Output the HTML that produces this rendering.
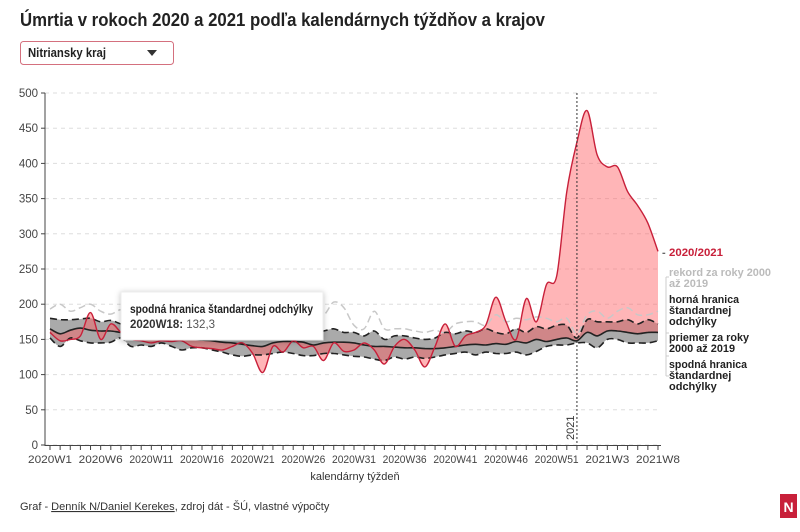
<!DOCTYPE html>
<html><head><meta charset="utf-8"><style>
body{margin:0;background:#fff;font-family:"Liberation Sans",sans-serif;}
svg text{font-family:"Liberation Sans",sans-serif;}
</style></head><body>
<svg id="c" width="800" height="527" viewBox="0 0 800 527" xmlns="http://www.w3.org/2000/svg">
<text x="20" y="26" font-size="18" font-weight="bold" fill="#222" textLength="525" lengthAdjust="spacingAndGlyphs">Úmrtia v rokoch 2020 a 2021 podľa kalendárnych týždňov a krajov</text>
<g>
<rect x="20.5" y="41.5" width="153" height="23" rx="3" fill="#fff" stroke="#d4707e"/>
<text x="28" y="57" font-size="12.5" font-weight="bold" fill="#222" textLength="78" lengthAdjust="spacingAndGlyphs">Nitriansky kraj</text>
<path d="M147 50 L157 50 L152 56 Z" fill="#333"/>
</g>
<g id="grid"></g><g id="plot"></g><g id="axes"></g>
<g>
<rect x="121" y="292" width="202" height="48" fill="#fff" stroke="#eee" style="filter:drop-shadow(0 1px 3px rgba(0,0,0,.25))"/>
<text x="130" y="313" font-size="11.5" font-weight="bold" fill="#222" textLength="183" lengthAdjust="spacingAndGlyphs">spodná hranica štandardnej odchýlky</text>
<text x="130" y="328" font-size="11.5" fill="#555"><tspan font-weight="bold" fill="#333">2020W18:</tspan> 132,3</text>
</g>
<g font-size="11" font-weight="bold">
<text x="662" y="256" fill="#666">-</text>
<text x="669" y="256" fill="#c8203a" textLength="54" lengthAdjust="spacingAndGlyphs">2020/2021</text>
<text x="669" y="276" fill="#bbb" textLength="102" lengthAdjust="spacingAndGlyphs">rekord za roky 2000</text>
<text x="669" y="287" fill="#bbb">až 2019</text>
<path d="M666 277 V356 M666 277 h3 M666 356 h3" stroke="#ccc" fill="none"/>
<text x="669" y="303" fill="#222" textLength="70" lengthAdjust="spacingAndGlyphs">horná hranica</text>
<text x="669" y="314" fill="#222">štandardnej</text>
<text x="669" y="325" fill="#222">odchýlky</text>
<path d="M666 333 V376 M666 333 h3 M666 376 h3" stroke="#ccc" fill="none"/>
<text x="669" y="341" fill="#222" textLength="80" lengthAdjust="spacingAndGlyphs">priemer za roky</text>
<text x="669" y="352" fill="#222" textLength="66" lengthAdjust="spacingAndGlyphs">2000 až 2019</text>
<text x="669" y="368" fill="#222" textLength="78" lengthAdjust="spacingAndGlyphs">spodná hranica</text>
<text x="669" y="379" fill="#222">štandardnej</text>
<text x="669" y="390" fill="#222">odchýlky</text>
</g>
<text x="355" y="480" font-size="11" fill="#333" text-anchor="middle">kalendárny týždeň</text>
<text x="20" y="510" font-size="11" fill="#333">Graf - <tspan text-decoration="underline">Denník N/Daniel Kerekes</tspan>, zdroj dát - ŠÚ, vlastné výpočty</text>
<g><rect x="780" y="494" width="17" height="24" fill="#c8203a"/><text x="788.5" y="512" font-size="14" font-weight="bold" fill="#fff" text-anchor="middle">N</text></g>
</svg>
<script>
const red=[160,148,150,155,188,150,172,160,150,148, 145,148,147,148,140,138,137,135,140,145, 130,103,140,132,148,138,140,120,145,133, 135,145,135,115,140,150,135,111,140,172, 140,155,160,170,210,175,150,208,175,228, 240,360,430, 475,412,395,395,360,340,315,275];
const mean=[165,158,163,166,163,162,162,160,161,162, 158,155,152,150,150,149,148,146,145,143, 141,140,145,147,147,146,142,145,146,146, 145,142,140,140,139,138,138,137,137,138, 140,142,143,142,144,143,147,145,150,147, 150,152,148, 160,155,162,162,160,158,160,160];
const upper=[180,178,178,179,180,175,177,172,170,165, 165,163,162,160,160,158,158,157,155,152, 150,150,152,155,160,158,160,162,165,160, 160,155,162,150,155,155,152,150,152,160, 158,162,160,165,160,158,165,160,168,165, 170,170,152, 178,175,175,175,178,172,178,172];
const lower=[152,140,152,148,145,145,146,152,140,142, 140,145,140,135,138,138,135,132,128,126, 128,128,130,132,130,127,127,130,130,128, 126,125,122,120,125,122,125,123,125,128, 130,132,128,132,130,130,132,128,133,140, 142,142,145, 145,138,150,150,145,145,145,148];
const record=[193,200,190,195,200,190,186,192,185,190, 188,185,190,188,180,178,182,185,180,183, 180,178,185,190,188,190,195,185,203,195, 170,165,190,165,165,165,162,160,163,160, 172,175,175,170,185,175,180,178,182,180, 175,180,158, 185,190,180,190,195,185,185,190];
const yTicks=[0,50,100,150,200,250,300,350,400,450,500];
const weeks=[];for(let i=1;i<=53;i++)weeks.push('2020W'+i);for(let i=1;i<=8;i++)weeks.push('2021W'+i);
const NS='http://www.w3.org/2000/svg';
const X=i=>50+i*(608/(weeks.length-1));
const Y=v=>445-v*0.704;
function el(t,a,p){const e=document.createElementNS(NS,t);for(const k in a)e.setAttribute(k,a[k]);p.appendChild(e);return e;}
function pts(arr){return arr.map((v,i)=>[X(i),Y(v)]);}
function spline(p,move){let d=(move?'M':'L')+p[0][0].toFixed(1)+','+p[0][1].toFixed(1);
for(let i=0;i<p.length-1;i++){const p0=p[i-1]||p[i],p1=p[i],p2=p[i+1],p3=p[i+2]||p2;
const c1=[p1[0]+(p2[0]-p0[0])/6,p1[1]+(p2[1]-p0[1])/6],c2=[p2[0]-(p3[0]-p1[0])/6,p2[1]-(p3[1]-p1[1])/6];
d+='C'+c1.map(n=>n.toFixed(1))+' '+c2.map(n=>n.toFixed(1))+' '+p2.map(n=>n.toFixed(1));}return d;}
function area(a,b){const pa=pts(a),pb=pts(b).reverse();return spline(pa,true)+spline(pb,false)+'Z';}
const grid=document.getElementById('grid'),plot=document.getElementById('plot'),axes=document.getElementById('axes');
yTicks.forEach(t=>{
const g=el('line',{x1:45,x2:660,y1:Y(t),y2:Y(t),stroke:'#ddd','stroke-dasharray':'4,4'},grid);


const tk=el('line',{x1:41,x2:45,y1:Y(t),y2:Y(t),stroke:'#444'},axes);
const lb=el('text',{x:38,y:Y(t)+4,'font-size':11.5,fill:'#444','text-anchor':'end'},axes);lb.textContent=t;


});
const band=el('path',{d:area(upper,lower),fill:'#aaa'},plot);


const diff=el('path',{d:area(red,mean),fill:'rgba(255,90,95,0.45)'},plot);


const lines=[[record,'#c8c8c8',1.5,'7,4','record-line'],[upper,'#222',1.6,'7,4','upper-line'],[lower,'#222',1.6,'7,4','lower-line'],[mean,'#222',1.6,'','mean-line'],[red,'#c8203a',1.4,'','series-2020-2021']];
lines.forEach(([a,c,w,da,n])=>{const p=el('path',{d:spline(pts(a),true),fill:'none',stroke:c,'stroke-width':w,'stroke-dasharray':da},plot);

});
const vl=el('line',{x1:X(52),x2:X(52),y1:93,y2:445,stroke:'#333','stroke-dasharray':'2,2'},plot);


const vt=el('text',{x:0,y:0,'font-size':11,fill:'#333',transform:`translate(${X(52)-3},440) rotate(-90)`},plot);vt.textContent='2021';


el('line',{x1:45,x2:45,y1:93,y2:446,stroke:'#444'},axes);
el('line',{x1:45,x2:661,y1:445.5,y2:445.5,stroke:'#444'},axes);
weeks.forEach((w,i)=>{el('line',{x1:X(i),x2:X(i),y1:445,y2:450,stroke:'#444'},axes);
if(i%5===0){const t=el('text',{x:X(i),y:463,'font-size':11,fill:'#444','text-anchor':'middle',textLength:44,lengthAdjust:'spacingAndGlyphs'},axes);t.textContent=w;

}});
</script>
</body></html>
